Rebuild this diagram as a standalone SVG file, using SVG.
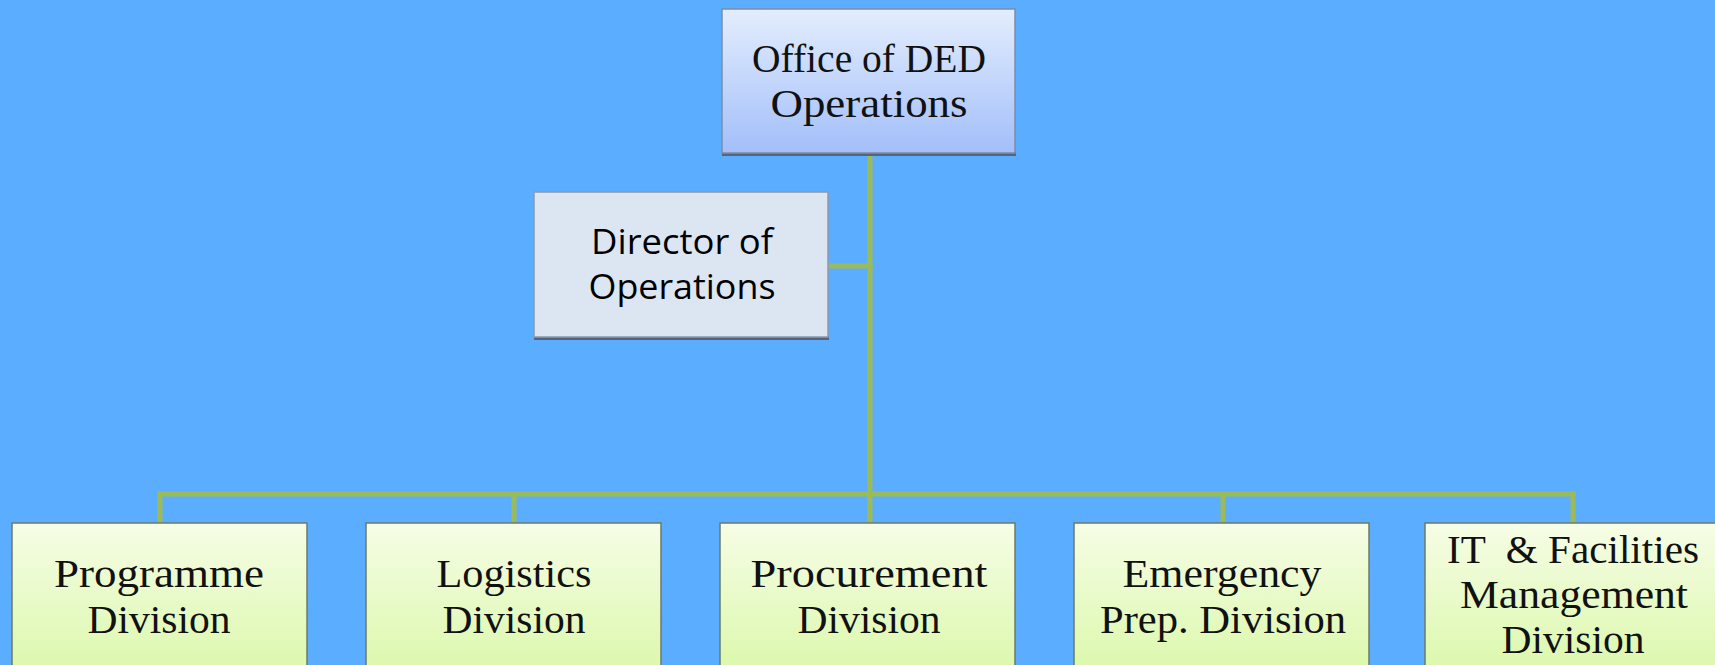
<svg xmlns="http://www.w3.org/2000/svg" width="1715" height="665" viewBox="0 0 1715 665">
<defs>
<linearGradient id="gTop" x1="0" y1="0" x2="0" y2="1">
<stop offset="0" stop-color="#e3edfd"/>
<stop offset="1" stop-color="#a3bffa"/>
</linearGradient>
<linearGradient id="gDiv" x1="0" y1="0" x2="0" y2="1">
<stop offset="0" stop-color="#f6fde6"/>
<stop offset="1" stop-color="#d6f7a0"/>
</linearGradient>
<style>
.conn{stroke:#9bbb59;stroke-width:5;fill:none;stroke-linecap:square}
.top{fill:url(#gTop);stroke:#7d8ca8;stroke-width:1.5}
.dir{fill:#dce6f2;stroke:#8c99ad;stroke-width:1.5}
.div{fill:url(#gDiv);stroke:#6e7a66;stroke-width:1.5}
.shadow{fill:#56647a}
.serif{font-family:"Liberation Serif","DejaVu Serif",serif;font-size:39px;fill:#111;text-anchor:middle}
.sans{font-family:"Open Sans","Noto Sans","Liberation Sans",sans-serif;font-size:34px;fill:#000;text-anchor:middle}
.pre{white-space:pre}
</style>
</defs>
<rect width="1715" height="665" fill="#5badff"/>
<g id="connectors">
<line class="conn" x1="870" y1="156" x2="870" y2="494"/>
<line class="conn" x1="830" y1="266" x2="870" y2="266"/>
<line class="conn" x1="160" y1="494" x2="1573" y2="494"/>
<line class="conn" x1="160" y1="494" x2="160" y2="522"/>
<line class="conn" x1="514" y1="494" x2="514" y2="522"/>
<line class="conn" x1="870" y1="494" x2="870" y2="522"/>
<line class="conn" x1="1223" y1="494" x2="1223" y2="522"/>
<line class="conn" x1="1573" y1="494" x2="1573" y2="522"/>
</g>
<g id="office-ded">
<rect class="shadow" x="722" y="152" width="294" height="4"/>
<rect class="top" x="722" y="9" width="293" height="144"/>
<text class="serif"><tspan x="869" y="72" textLength="234" lengthAdjust="spacingAndGlyphs">Office of DED</tspan><tspan x="869" y="117" textLength="197" lengthAdjust="spacingAndGlyphs">Operations</tspan></text>
</g>
<g id="director">
<rect class="shadow" x="534" y="336" width="295" height="4"/>
<rect class="dir" x="534" y="192" width="294" height="145"/>
<text class="sans"><tspan x="682" y="254" textLength="182" lengthAdjust="spacingAndGlyphs">Director of</tspan><tspan x="682" y="299" textLength="187" lengthAdjust="spacingAndGlyphs">Operations</tspan></text>
</g>
<g id="programme">
<rect class="div" x="12" y="523" width="295" height="180"/>
<text class="serif"><tspan x="159" y="587" textLength="210" lengthAdjust="spacingAndGlyphs">Programme</tspan><tspan x="159" y="633" textLength="143" lengthAdjust="spacingAndGlyphs">Division</tspan></text>
</g>
<g id="logistics">
<rect class="div" x="366" y="523" width="295" height="180"/>
<text class="serif"><tspan x="514" y="587" textLength="155" lengthAdjust="spacingAndGlyphs">Logistics</tspan><tspan x="514" y="633" textLength="143" lengthAdjust="spacingAndGlyphs">Division</tspan></text>
</g>
<g id="procurement">
<rect class="div" x="720" y="523" width="295" height="180"/>
<text class="serif"><tspan x="869" y="587" textLength="237" lengthAdjust="spacingAndGlyphs">Procurement</tspan><tspan x="869" y="633" textLength="143" lengthAdjust="spacingAndGlyphs">Division</tspan></text>
</g>
<g id="emergency">
<rect class="div" x="1074" y="523" width="295" height="180"/>
<text class="serif"><tspan x="1222" y="587" textLength="199" lengthAdjust="spacingAndGlyphs">Emergency</tspan><tspan x="1223" y="633" textLength="246" lengthAdjust="spacingAndGlyphs">Prep. Division</tspan></text>
</g>
<g id="it-facilities">
<rect class="div" x="1425" y="523" width="300" height="180"/>
<text class="serif"><tspan class="pre" x="1573" y="563" textLength="252" lengthAdjust="spacingAndGlyphs">IT  &amp; Facilities</tspan><tspan x="1574" y="608" textLength="228" lengthAdjust="spacingAndGlyphs">Management</tspan><tspan x="1573" y="653" textLength="143" lengthAdjust="spacingAndGlyphs">Division</tspan></text>
</g>
</svg>
